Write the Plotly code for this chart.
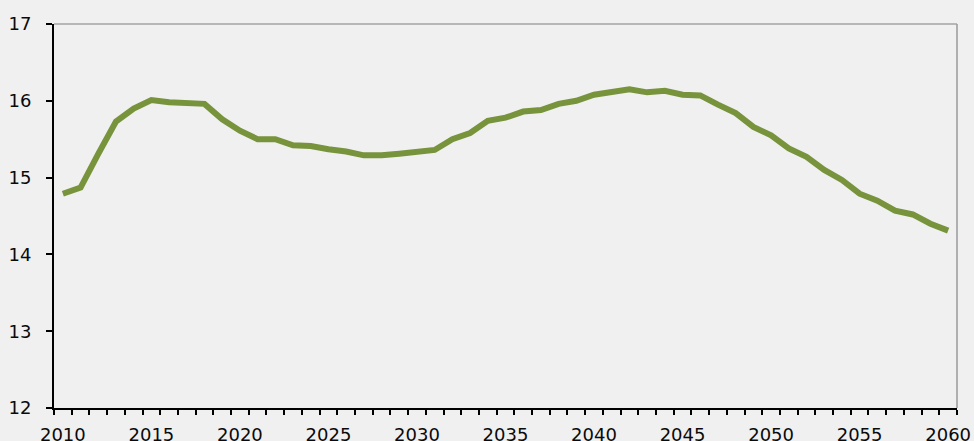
import plotly.graph_objects as go

years = list(range(2010, 2061))
values = [
    14.79, 14.87, 15.31, 15.73, 15.90, 16.01, 15.98, 15.97, 15.96, 15.76,
    15.61, 15.50, 15.50, 15.42, 15.41, 15.37, 15.34, 15.29, 15.29, 15.31,
    15.33, 15.36, 15.50, 15.58, 15.74, 15.78, 15.86, 15.88, 15.96, 16.00,
    16.08, 16.11, 16.15, 16.11, 16.13, 16.08, 16.07, 15.95, 15.84, 15.66,
    15.55, 15.38, 15.27, 15.10, 14.97, 14.79, 14.70, 14.57, 14.52, 14.40,
    14.31,
]
x_labels = list(range(2010, 2061, 5))
y_ticks = [12, 13, 14, 15, 16, 17]

font = dict(family="DejaVu Sans", size=18, color="#0a0a0a")

fig = go.Figure()
fig.add_trace(
    go.Scatter(
        x=years,
        y=values,
        mode="lines",
        line=dict(color="#77933c", width=6),
        hoverinfo="skip",
    )
)

fig.update_layout(
    width=974,
    height=441,
    margin={"l": 54, "r": 17, "t": 24, "b": 33},
    paper_bgcolor="#f0f0f0",
    plot_bgcolor="#f0f0f0",
    showlegend=False,
    font=font,
    xaxis=dict(
        range=[years[0] - 0.5, years[-1] + 0.5],
        automargin=False,
        tickmode="array",
        tickvals=x_labels,
        ticktext=[str(v) for v in x_labels],
        ticks="",
        ticklabelstandoff=9,
        showgrid=False,
        zeroline=False,
        showline=True,
        linecolor="black",
        linewidth=2,
        minor=dict(
            ticks="outside",
            tickmode="linear",
            tick0=years[0] - 0.5,
            dtick=1,
            ticklen=5,
            tickwidth=1.5,
            tickcolor="black",
            showgrid=False,
        ),
    ),
    yaxis=dict(
        range=[12, 17],
        automargin=False,
        tickmode="array",
        tickvals=y_ticks,
        ticks="outside",
        ticklen=6,
        tickwidth=1.5,
        tickcolor="black",
        ticklabelstandoff=11,
        showgrid=False,
        zeroline=False,
        showline=True,
        linecolor="black",
        linewidth=2,
    ),
)

# plot-area border: grey on top and right
fig.add_shape(type="line", xref="paper", yref="paper", x0=0, x1=1, y0=1, y1=1,
              line=dict(color="#7f7f7f", width=1.2))
fig.add_shape(type="line", xref="paper", yref="paper", x0=1, x1=1, y0=0, y1=1,
              line=dict(color="#9a9a9a", width=1.5))

# drop the page's default 8px body margin so the figure sits at the corner
fig.write_html(
    "out.html",
    config={"displayModeBar": False},
    post_script="document.body.style.margin='0';"
                "document.body.style.background='#f0f0f0';",
)
